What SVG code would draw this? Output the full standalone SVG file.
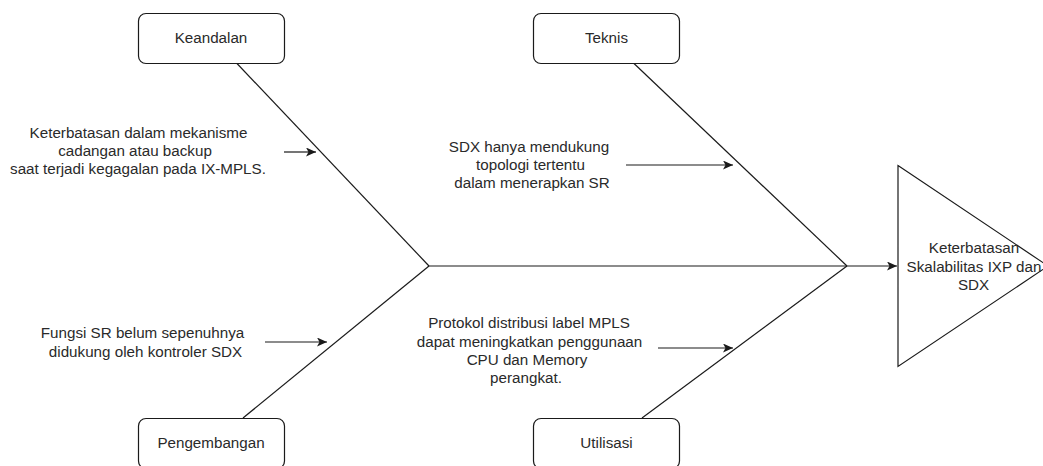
<svg xmlns="http://www.w3.org/2000/svg" width="1043" height="466" viewBox="0 0 1043 466">
<style>
.box{fill:#ffffff;stroke:#1a1a1a;stroke-width:1.2}
.ln{fill:none;stroke:#1a1a1a;stroke-width:1.2}
.t{font-family:"Liberation Sans",Arial,Helvetica,sans-serif;font-size:15.2px;fill:#2a2a2a;text-anchor:middle}
</style>
<defs>
<marker id="arr" markerUnits="userSpaceOnUse" markerWidth="12" markerHeight="10" refX="10" refY="4.5" orient="auto">
<path d="M0,0 L10,4.5 L0,9 L2.5,4.5 Z" fill="#1a1a1a"/>
</marker>
</defs>
<rect width="1043" height="466" fill="#ffffff"/>
<g id="connectors">
<line class="ln" x1="429" y1="266" x2="897" y2="266" marker-end="url(#arr)"/>
<line class="ln" x1="237" y1="63.5" x2="429" y2="266"/>
<line class="ln" x1="243" y1="418" x2="429" y2="266"/>
<line class="ln" x1="634" y1="63.5" x2="847" y2="266"/>
<line class="ln" x1="642" y1="418" x2="847" y2="266"/>
<line class="ln" x1="284" y1="152" x2="316" y2="152" marker-end="url(#arr)"/>
<line class="ln" x1="265" y1="342" x2="327" y2="342" marker-end="url(#arr)"/>
<line class="ln" x1="626" y1="165" x2="733" y2="165" marker-end="url(#arr)"/>
<line class="ln" x1="658" y1="348" x2="733" y2="348" marker-end="url(#arr)"/>
</g>
<g id="keandalan">
<rect class="box" x="138.5" y="13.5" width="146" height="50" rx="7.5"/>
<text class="t" x="211" y="43">Keandalan</text>
</g>
<g id="teknis">
<rect class="box" x="533.5" y="13.5" width="146" height="50" rx="7.5"/>
<text class="t" x="606.5" y="43">Teknis</text>
</g>
<g id="pengembangan">
<rect class="box" x="138.5" y="418.5" width="146" height="50" rx="7.5"/>
<text class="t" x="211" y="448">Pengembangan</text>
</g>
<g id="utilisasi">
<rect class="box" x="533.5" y="418.5" width="146" height="50" rx="7.5"/>
<text class="t" x="606.5" y="448">Utilisasi</text>
</g>
<g id="head">
<polygon class="box" points="898,165.5 1048,266 898,366.5"/>
<text class="t" x="974" y="253">Keterbatasan</text>
<text class="t" x="974" y="272">Skalabilitas IXP dan</text>
<text class="t" x="973.5" y="290">SDX</text>
</g>
<g id="cause-keandalan">
<text class="t" x="138.5" y="138">Keterbatasan dalam mekanisme</text>
<text class="t" x="135" y="156">cadangan atau backup</text>
<text class="t" x="138" y="174">saat terjadi kegagalan pada IX-MPLS.</text>
</g>
<g id="cause-pengembangan">
<text class="t" x="142.5" y="338">Fungsi SR belum sepenuhnya</text>
<text class="t" x="145.5" y="357">didukung oleh kontroler SDX</text>
</g>
<g id="cause-teknis">
<text class="t" x="529" y="152">SDX hanya mendukung</text>
<text class="t" x="530.5" y="170">topologi tertentu</text>
<text class="t" x="532" y="188">dalam menerapkan SR</text>
</g>
<g id="cause-utilisasi">
<text class="t" x="529" y="328">Protokol distribusi label MPLS</text>
<text class="t" x="529.5" y="347">dapat meningkatkan penggunaan</text>
<text class="t" x="527" y="365">CPU dan Memory</text>
<text class="t" x="526" y="383">perangkat.</text>
</g>
</svg>
